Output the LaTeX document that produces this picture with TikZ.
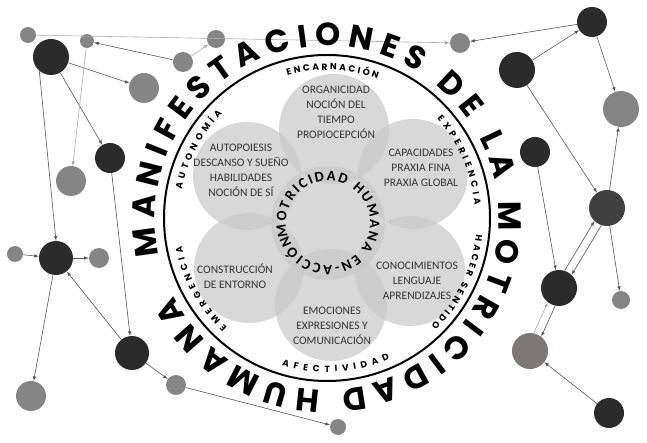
\documentclass[tikz,border=0pt]{standalone}
\usepackage{fontspec}
\usepackage{tikz}
\usetikzlibrary{decorations.text}

\newfontfamily\gothicfont{Poppins}
\newfontfamily\calfont{Carlito}
\newcommand\bigletters{\gothicfont\bfseries\fontsize{32}{32}\selectfont}
\newcommand\ringletters{\gothicfont\bfseries\fontsize{9}{9}\selectfont}
\newcommand\hubletters{\calfont\bfseries\fontsize{14.5}{14.5}\selectfont}

\definecolor{dotblack}{HTML}{2B2B2B}
\definecolor{dotgray}{HTML}{858585}
\definecolor{dotdark}{HTML}{404040}
\definecolor{dotmauve}{HTML}{7D7777}
\definecolor{edgedark}{HTML}{555555}
\definecolor{edgelight}{HTML}{ABABAB}
\definecolor{petalgray}{HTML}{C8C8C8}
\definecolor{inktext}{HTML}{333333}

\begin{document}
\begin{tikzpicture}[
		x=1pt, y=1pt,
		>=latex,
		every node/.style={circle, inner sep=0pt},
		hub/.style={fill=dotblack},
		leaf/.style={fill=dotgray},
		link/.style={->, draw=edgedark, line width=0.6pt},
		faint/.style={->, draw=edgelight, line width=0.6pt},
		petaltext/.style={rectangle, align=center, text=inktext, font=\calfont\fontsize{11.5}{15}\selectfont},
		ringtext/.style={decorate, decoration={text along path, text align=fit to path, text={|\ringletters|#1}}}
	]
  \useasboundingbox (0,0) rectangle (647,442);

  % network, left
  \node (n_1) [leaf, minimum size=16pt] at (28,407) {};
  \node (n_2) [leaf, minimum size=14pt] at (87,401) {};
  \node (n_3) [hub, minimum size=36pt] at (51,385) {};
  \node (n_4) [leaf, minimum size=20pt] at (183,380) {};
  \node (n_5) [leaf, minimum size=18pt] at (216,403) {};
  \node (n_6) [leaf, minimum size=30pt] at (144,354) {};
  \node (n_7) [hub, minimum size=30pt] at (110,284) {};
  \node (n_8) [leaf, minimum size=30pt] at (71,261) {};
  \node (n_9) [hub, minimum size=34pt] at (56,184) {};
  \node (n_10) [leaf, minimum size=16pt] at (15,188) {};
  \node (n_11) [leaf, minimum size=20pt] at (99,184) {};
  \node (n_12) [hub, minimum size=34pt] at (132,89) {};
  \node (n_13) [leaf, minimum size=30pt] at (31,46) {};
  \node (n_14) [leaf, minimum size=20pt] at (176,57) {};
  \node (n_15) [leaf, minimum size=16pt] at (338,15) {};

  % network, right
  \node (n_16) [leaf, minimum size=20pt] at (460,399) {};
  \node (n_17) [hub, minimum size=30pt] at (592,420) {};
  \node (n_18) [hub, minimum size=36pt] at (517,372) {};
  \node (n_19) [leaf, minimum size=36pt] at (621,333) {};
  \node (n_20) [hub, minimum size=30pt] at (535,290) {};
  \node (n_21) [fill=dotdark, minimum size=36pt] at (607,234) {};
  \node (n_22) [hub, minimum size=36pt] at (559,154) {};
  \node (n_23) [leaf, minimum size=18pt] at (621,142) {};
  \node (n_24) [fill=dotmauve, minimum size=36pt] at (530,91) {};
  \node (n_25) [hub, minimum size=30pt] at (609,29) {};

  \draw [faint] (n_1) -- (n_16);
  \draw [link] (n_4) -- (n_2);
  \draw [faint] (n_4) -- (n_5);
  \draw [link] (n_3) -- (n_6);
  \draw [link] (n_3) -- (n_7);
  \draw [faint] (n_2) -- (n_8);
  \draw [link] (n_3.230) -- (n_9.90);
  \draw [link] (n_7) -- (n_12);
  \draw [link] (n_10) -- (n_9);
  \draw [link] (n_9) -- (n_11);
  \draw [link] (n_9) -- (n_13);
  \draw [link] (n_12) -- (n_9);
  \draw [link] (n_12) -- (n_14);
  \draw [link] (n_14) -- (n_15);
  \draw [link] (n_18) -- (n_17);
  \draw [link] (n_17) -- (n_16);
  \draw [link] (n_17) -- (n_19);
  \draw [link] (n_18) -- (n_21);
  \draw [link] (n_21) -- (n_19);
  \draw [link] (n_20) -- (n_22);
  \draw [link] (n_22.72) -- (n_21.226);
  \draw [link] (n_21.252) -- (n_22.46);
  \draw [link] (n_21) -- (n_23);
  \draw [faint] (n_24.78) -- (n_22.232);
  \draw [link] (n_22.258) -- (n_24.52);
  \draw [link] (n_25) -- (n_24);

  % wheel
  \coordinate (ring) at (327,224);
  \coordinate (core) at (328,219);
  \foreach \x/\y/\r in {334/313/55, 247/266/54, 413/268/55, 249/174/55, 410/171/55, 331/137/56, 328/219/57}
    \fill [petalgray, fill opacity=0.7] (\x,\y) circle (\r);
  \draw [line width=2pt] (ring) circle (163);

  \node (t_top) [petaltext] at (336,330) {ORGANICIDAD\\NOCIÓN DEL\\TIEMPO\\PROPIOCEPCIÓN};
  \node (t_ul) [petaltext] at (241,272) {AUTOPOIESIS\\DESCANSO Y SUEÑO\\HABILIDADES\\NOCIÓN DE SÍ};
  \node (t_ur) [petaltext] at (421,274) {CAPACIDADES\\PRAXIA FINA\\PRAXIA GLOBAL};
  \node (t_ll) [petaltext] at (235,166) {CONSTRUCCIÓN\\DE ENTORNO};
  \node (t_lr) [petaltext] at (417,161) {CONOCIMIENTOS\\LENGUAJE\\APRENDIZAJES};
  \node (t_bot) [petaltext] at (332,116) {EMOCIONES\\EXPRESIONES Y\\COMUNICACIÓN};

  \path [decorate, decoration={text along path, text align=fit to path,
      text={|\hubletters|MOTRICIDAD HUMANA EN-ACCIÓN}}]
    ([shift={(198:42)}]core) arc[start angle=198, end angle=-162, radius=42];

  \path [ringtext=ENCARNACIÓN] ([shift={(105.5:148)}]ring) arc[start angle=105.5, end angle=70, radius=148];
  \path [ringtext=EXPERIENCIA] ([shift={(42:148)}]ring) arc[start angle=42, end angle=5, radius=148];
  \path [ringtext=HACER SENTIDO] ([shift={(-6.5:150)}]ring) arc[start angle=-6.5, end angle=-46, radius=150];
  \path [ringtext=AFECTIVIDAD] ([shift={(253:154)}]ring) arc[start angle=253, end angle=294, radius=154];
  \path [ringtext=EMERGENCIA] ([shift={(227.5:148)}]ring) arc[start angle=227.5, end angle=191, radius=148];
  \path [ringtext=AUTONOMÍA] ([shift={(169:148)}]ring) arc[start angle=169, end angle=135, radius=148];

  \path [decorate, decoration={text along path, text align=fit to path,
      text={|\bigletters|MANIFESTACIONES DE LA MOTRICIDAD HUMANA}}]
    ([shift={(192.5:172)}]ring) arc[start angle=192.5, end angle=-153, radius=172];
\end{tikzpicture}
\end{document}
